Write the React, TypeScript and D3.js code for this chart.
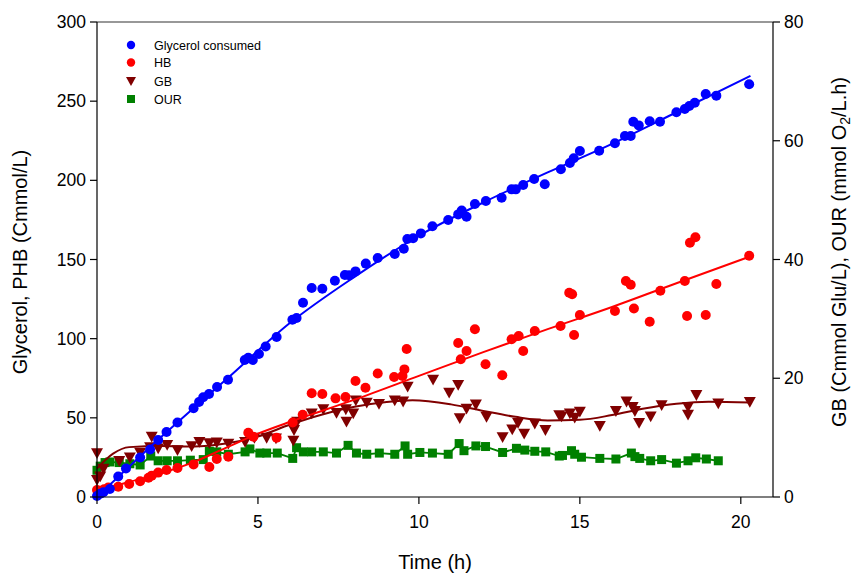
import React from "react";
import * as d3 from "d3";

const glycerol: [number, number][] = [
  [0,0.6],[0.1,2],[0.2,3],[0.4,5],[0.66,13],[0.9,18],[1.34,25],[1.65,30],[1.9,36],[2.16,41],[2.5,47],[3.0,56],[3.17,60],[3.3,63],[3.48,65],[3.73,69.5],[4.07,74],[4.59,86.5],[4.7,88],[4.84,86.5],[5.03,90.3],[5.24,95],[5.58,101],[6.07,112],[6.2,113],[6.4,122.7],[6.67,132],[7.0,131.5],[7.39,136.6],[7.7,140.2],[7.83,140],[8.03,142.5],[8.35,147.4],[8.72,151],[9.25,153.5],[9.53,156.8],[9.64,163],[9.82,163.4],[10.06,166.5],[10.42,171],[10.91,175],[11.22,178.5],[11.33,181],[11.48,177],[11.74,185],[12.08,187],[12.57,189],[12.88,194.3],[13.01,194.3],[13.24,197],[13.58,200.8],[13.91,197.5],[14.41,207],[14.69,211],[14.81,214],[15.0,218.5],[15.6,218.7],[16.09,223.4],[16.4,228],[16.58,228],[16.66,237],[16.83,234.7],[17.17,237.3],[17.49,237],[18.0,243],[18.26,245],[18.4,247],[18.57,249],[18.91,254.5],[19.24,253.5],[20.26,260.7]
];

const hb: [number, number][] = [
  [0,4.4],[0.1,4],[0.22,4.9],[0.35,6],[0.66,6.5],[1.0,8.2],[1.34,10],[1.6,12.2],[1.7,13.5],[1.9,15.4],[2.16,17],[2.5,18.3],[3.0,20.6],[3.49,19],[3.72,24],[4.08,25.5],[4.7,40.6],[4.86,38],[5.58,37.5],[6.08,47],[6.39,52],[6.67,65.5],[7.0,65],[7.41,62.3],[7.72,63.2],[8.03,73.3],[8.34,69],[8.72,78],[9.23,75.8],[9.49,76.4],[9.55,80.6],[9.62,93.5],[11.22,97.3],[11.3,87],[11.48,92.2],[11.74,106],[12.07,83.8],[12.59,76.9],[12.88,99.6],[13.1,101.7],[13.24,92.2],[13.6,104.8],[14.4,108],[14.67,129],[14.76,128],[14.82,102.3],[15.0,115],[16.09,117.5],[16.43,136.4],[16.58,134],[16.68,119],[17.17,110.7],[17.5,130.3],[18.26,136.4],[18.33,114.3],[18.42,160.6],[18.59,164],[18.91,115],[19.24,134.5],[20.26,152.4]
];

const gb: [number, number][] = [
  [0,7.4],[0,2.9],[0.1,3.5],[0.2,4.8],[0.69,6.1],[1.02,6.7],[1.34,7.5],[1.65,8.4],[1.7,10.2],[1.9,8.2],[2.18,8.8],[2.5,7.9],[2.94,8.6],[3.18,9.3],[3.49,9.1],[3.72,9.2],[4.08,9.0],[4.6,9.3],[4.89,10],[5.27,10],[5.56,9.9],[6.1,9.5],[6.12,11.3],[6.22,12.7],[6.67,14.1],[7.03,14.8],[7.44,14.2],[7.73,14.8],[7.75,12.7],[7.96,14.1],[8.04,16.3],[8.38,15.9],[8.76,15.7],[9.25,16.3],[9.51,16.1],[9.65,18.6],[10.44,19.8],[10.94,17.6],[11.22,18.9],[11.27,13.3],[11.48,14.9],[11.77,15.6],[12.1,13.5],[12.6,10.1],[12.9,11.4],[13.08,12.5],[13.27,10.7],[13.6,12.4],[13.93,11.3],[14.36,13.8],[14.43,13.6],[14.69,14.1],[14.84,13.4],[15.0,14.4],[15.62,12.0],[16.12,14.5],[16.45,16.1],[16.64,15.2],[16.71,14.5],[16.84,12.5],[17.2,13.6],[17.54,15.5],[18.36,15.2],[18.36,13.9],[18.62,17.2],[19.3,15.8],[20.28,16.05]
];

const our: [number, number][] = [
  [0,4.5],[0.1,5.2],[0.25,5.8],[0.4,5.9],[0.69,5.8],[1.02,5.6],[1.34,5.4],[1.67,6.9],[1.9,6.1],[2.18,6.1],[2.5,6.1],[2.9,6.2],[3.3,6.3],[3.49,7.7],[3.72,7.6],[4.08,7.2],[4.6,7.6],[4.75,8.1],[5.06,7.4],[5.27,7.4],[5.6,7.4],[6.08,6.5],[6.2,8.3],[6.41,7.6],[6.67,7.6],[7.03,7.6],[7.44,7.4],[7.8,8.7],[8.06,7.4],[8.38,7.2],[8.77,7.4],[9.25,7.2],[9.57,8.6],[9.65,7.2],[10.03,7.5],[10.42,7.4],[10.91,7.2],[11.25,9.0],[11.4,7.8],[11.77,8.6],[12.07,8.5],[12.6,7.5],[13.03,8.2],[13.29,7.9],[13.6,7.7],[13.94,7.6],[14.36,6.9],[14.46,7.0],[14.74,7.8],[14.84,7.2],[15.05,6.7],[15.62,6.5],[16.12,6.4],[16.6,7.4],[16.71,6.8],[16.86,6.5],[17.2,6.1],[17.54,6.3],[18.0,5.7],[18.36,6.1],[18.6,6.6],[18.93,6.4],[19.3,6.1]
];

// Fitted curves
const glycerolFit: [number, number][] = [
  [0,0],[2,38],[4,74],[6,110],[8,139],[10,165],[12,186],[14,205],[16,223],[18,243],[20.3,266]
];
const hbFit: [number, number][] = [
  [0,4],[1,9.5],[2,15],[3,22],[4,31],[5,40],[6,47.5],[7,54.5],[8,61.5],[10,76.5],[12,91.5],[14,106],[16,120],[18,135],[20.3,152]
];
const gbFit: [number, number][] = [
  [0,4.8],[0.5,7.3],[1,8.4],[2,8.6],[3,8.5],[4,9.0],[5,10.2],[6,12.2],[7,13.9],[8,15.2],[9,16.0],[9.8,16.3],[11,15.6],[12,14.5],[13,13.5],[14,12.9],[15,13.0],[16,13.8],[17,14.9],[18,15.7],[19,16.05],[20.3,15.9]
];

const xTicks = [0, 5, 10, 15, 20];
const leftTicks = [0, 50, 100, 150, 200, 250, 300];
const rightTicks = [0, 20, 40, 60, 80];
const legendLabels = ["Glycerol consumed", "HB", "GB", "OUR"];

const W = 856, H = 576;
const L = 97, R = 773, T = 22, B = 497;
const FONT = "'Liberation Sans', Arial, sans-serif";

const BLUE = "#0000ff", RED = "#ff0000", MAROON = "#800000", GREEN = "#008000";

function Tri({ x, y, s = 6, fill }: { x: number; y: number; s?: number; fill: string }) {
  return <path d={`M${x - s},${y - s * 0.8}L${x + s},${y - s * 0.8}L${x},${y + s * 1.0}Z`} fill={fill} />;
}

export default function App() {
  const x = d3.scaleLinear().domain([0, 21]).range([L, R]);
  const yl = d3.scaleLinear().domain([0, 300]).range([B, T]);
  const yr = d3.scaleLinear().domain([0, 80]).range([B, T]);

  const fitLeft = d3.line<[number, number]>().x(d => x(d[0])).y(d => yl(d[1])).curve(d3.curveMonotoneX);
  const fitRight = d3.line<[number, number]>().x(d => x(d[0])).y(d => yr(d[1])).curve(d3.curveMonotoneX);
  const ourLine = d3.line<[number, number]>().x(d => x(d[0])).y(d => yr(d[1]));

  return (
    <svg width={W} height={H} style={{ position: "absolute", left: 0, top: 0, background: "#fff" }} fontFamily={FONT}>
      <rect width={W} height={H} fill="#fff" />
      {/* OUR */}
      <path d={ourLine(our) || ""} fill="none" stroke={GREEN} strokeWidth={1.8} />
      {our.map((d, i) => (
        <rect key={"o" + i} x={x(d[0]) - 4.5} y={yr(d[1]) - 4.5} width={9} height={9} fill={GREEN} />
      ))}
      {/* GB */}
      <path d={fitRight(gbFit) || ""} fill="none" stroke={MAROON} strokeWidth={2} />
      {gb.map((d, i) => (
        <Tri key={"g" + i} x={x(d[0])} y={yr(d[1])} fill={MAROON} />
      ))}
      {/* HB */}
      <path d={fitLeft(hbFit) || ""} fill="none" stroke={RED} strokeWidth={2} />
      {hb.map((d, i) => (
        <circle key={"h" + i} cx={x(d[0])} cy={yl(d[1])} r={5} fill={RED} />
      ))}
      {/* Glycerol */}
      <path d={fitLeft(glycerolFit) || ""} fill="none" stroke={BLUE} strokeWidth={2} />
      {glycerol.map((d, i) => (
        <circle key={"b" + i} cx={x(d[0])} cy={yl(d[1])} r={5} fill={BLUE} />
      ))}

      {/* frame */}
      <line x1={L} x2={R} y1={T} y2={T} stroke="#333" strokeWidth={1.2} />
      <line x1={L} x2={R} y1={B} y2={B} stroke="#000" strokeWidth={1.2} />
      <line x1={L} x2={L} y1={T} y2={B} stroke="#000" strokeWidth={1.2} />
      <line x1={R} x2={R} y1={T} y2={B} stroke="#000" strokeWidth={1.2} />

      {/* x ticks */}
      {xTicks.map(t => (
        <g key={"xt" + t}>
          <line x1={x(t)} x2={x(t)} y1={B} y2={B + 7} stroke="#000" strokeWidth={1.2} />
          <text x={x(t)} y={B + 31} fontSize={17.5} textAnchor="middle">{t}</text>
        </g>
      ))}
      {leftTicks.map(t => (
        <g key={"lt" + t}>
          <line x1={L - 7} x2={L} y1={yl(t)} y2={yl(t)} stroke="#000" strokeWidth={1.2} />
          <text x={L - 11} y={yl(t) + 6} fontSize={17.5} textAnchor="end">{t}</text>
        </g>
      ))}
      {rightTicks.map(t => (
        <g key={"rt" + t}>
          <line x1={R} x2={R + 7} y1={yr(t)} y2={yr(t)} stroke="#000" strokeWidth={1.2} />
          <text x={R + 11} y={yr(t) + 6} fontSize={17.5} textAnchor="start">{t}</text>
        </g>
      ))}

      {/* axis titles */}
      <text x={435} y={569} fontSize={20} textAnchor="middle">Time (h)</text>
      <text transform={`translate(27,262) rotate(-90)`} fontSize={20} textAnchor="middle">Glycerol, PHB (Cmmol/L)</text>
      <text transform={`translate(846,252) rotate(-90)`} fontSize={20} textAnchor="middle">
        GB (Cmmol Glu/L), OUR (mmol O<tspan fontSize={14} dy={4}>2</tspan><tspan dy={-4}>/L.h)</tspan>
      </text>

      {/* legend */}
      {legendLabels.map((lab, i) => {
        const cy = [45, 62.5, 81, 99][i];
        const mx = 131;
        let marker: React.ReactNode = null;
        if (i === 0) marker = <circle cx={mx} cy={cy} r={4.2} fill={BLUE} />;
        if (i === 1) marker = <circle cx={mx} cy={cy} r={4.2} fill={RED} />;
        if (i === 2) marker = <Tri x={mx} y={cy} s={5} fill={MAROON} />;
        if (i === 3) marker = <rect x={mx - 4} y={cy - 4} width={8} height={8} fill={GREEN} />;
        return (
          <g key={"lg" + i}>
            {marker}
            <text x={154} y={cy + 4.5} fontSize={12.5}>{lab}</text>
          </g>
        );
      })}
    </svg>
  );
}
